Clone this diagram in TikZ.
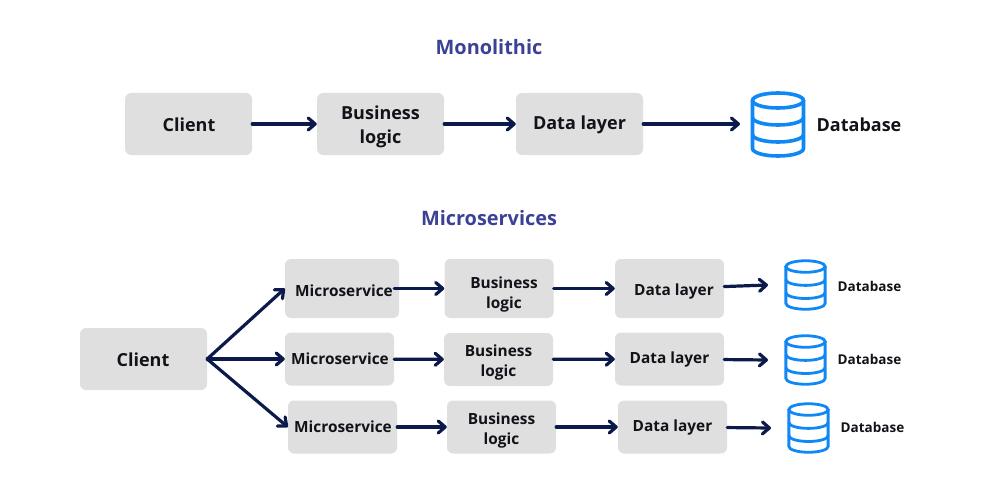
\documentclass[tikz,border=0pt]{standalone}
\usepackage{fontspec}
\setmainfont{Open Sans}
\usetikzlibrary{arrows.meta}
\definecolor{BoxGray}{HTML}{DFDFDF}
\definecolor{ArrowNavy}{HTML}{0B1A4A}
\definecolor{TitleBlue}{HTML}{3C4196}
\definecolor{DbBlue}{HTML}{0F87F5}
\definecolor{TextBlack}{HTML}{111318}
\tikzset{
    % Box styles
    box/.style={
        rectangle,
        rounded corners=6pt,
        fill=BoxGray,
        inner sep=0pt
    },
    bigbox/.style={
        box,
        minimum width=127pt,
        minimum height=62pt
    },
    smallbox/.style={
        box,
        minimum width=109pt,
        minimum height=53pt
    },
    % Row on top is a little taller
    toprow/.style={
        minimum height=59pt
    },
    % Text styles
    bigtext/.style={
        inner sep=0pt,
        align=center,
        text=TextBlack,
        font=\fontsize{18}{24}\selectfont\bfseries
    },
    boxtext/.style={
        inner sep=0pt,
        align=center,
        text=TextBlack,
        font=\fontsize{15.4}{20}\selectfont\bfseries
    },
    title/.style={
        inner sep=0pt,
        text=TitleBlue,
        font=\fontsize{19.9}{24}\selectfont\bfseries
    },
    dblabelsmall/.style={
        inner sep=0pt,
        text=TextBlack,
        font=\fontsize{13.5}{18}\selectfont\bfseries
    },
    % Arrow styles
    arrow/.style={
        -{Straight Barb[length=7pt,width=12pt,round]},
        line width=3.2pt,
        line cap=round,
        draw=ArrowNavy
    },
    dbline/.style={
        draw=DbBlue,
        line width=3.4pt
    },
    pics/database/.style={
        code={
            \draw[dbline] (0,-24) ellipse [x radius=25.5, y radius=7.5];
            \foreach \y in {-7,10}
                \draw[dbline] (-25.5,\y) arc [start angle=180, end angle=0, x radius=25.5, y radius=7.5];
            \draw[dbline] (-25.5,-24) -- (-25.5,24)
                arc [start angle=180, end angle=0, x radius=25.5, y radius=7.5] -- (25.5,-24);
        }
    }
}
\begin{document}
\begin{tikzpicture}[x=1pt, y=-1pt]
    \useasboundingbox (0,0) rectangle (1000,500);

    % Monolithic
    \node[title] (monotitle) at (489,47) {Monolithic};
    \node[bigbox] (client) at (188.5,124) {};
    \node[bigtext] (clienttext) at (189,124.5) {Client};
    \node[bigbox] (logic) at (380.5,124) {};
    \node[bigtext] (logictext) at (380.5,126.5) {Business\\logic};
    \node[bigbox] (data) at (579.5,124) {};
    \node[bigtext] (datatext) at (579.5,125) {Data layer};
    \pic[dbline/.append style={line width=3.6pt}] at (778,124.5) {database};
    \coordinate (dbin) at (740,124);
    \node[bigtext] (dbname) at (859,124.5) {Database};

    \draw[arrow] (client) -- (logic);
    \draw[arrow] (logic) -- (data);
    \draw[arrow] (data) -- (dbin);

    % Microservices
    \node[title] (microtitle) at (489,218) {Microservices};
    \node[bigbox] (clientb) at (143.5,359) {};
    \node[bigtext] (clientbtext) at (143,359.5) {Client};

    \node[smallbox, toprow, minimum width=114pt] (micro1) at (342,288.5) {};
    \node[boxtext] (microtext1) at (344,291) {Microservice};
    \node[smallbox, toprow] (logic1) at (499,288.5) {};
    \node[boxtext] (logictext1) at (504,294) {Business\\logic};
    \node[smallbox, toprow] (data1) at (669.5,288.5) {};
    \node[boxtext] (datatext1) at (674,291) {Data layer};

    \node[smallbox] (micro2) at (339.5,359) {};
    \node[boxtext] (microtext2) at (340,359) {Microservice};
    \node[smallbox] (logic2) at (498.5,359.5) {};
    \node[boxtext] (logictext2) at (498.5,362) {Business\\logic};
    \node[smallbox] (data2) at (669.5,359) {};
    \node[boxtext] (datatext2) at (669.5,359.5) {Data layer};

    \node[smallbox] (micro3) at (342.5,427) {};
    \node[boxtext] (microtext3) at (343,427) {Microservice};
    \node[smallbox] (logic3) at (501.5,427) {};
    \node[boxtext] (logictext3) at (501.5,430) {Business\\logic};
    \node[smallbox] (data3) at (672.5,427) {};
    \node[boxtext] (datatext3) at (672.5,427.5) {Data layer};

    \foreach \i/\x/\y in {1/805.5/285, 2/805.5/360, 3/808.5/428} {
        \pic[scale=0.77, dbline/.append style={line width=2.8pt}] at (\x,\y) {database};
    }
    \coordinate (dbin1) at (768,285);
    \coordinate (dbin2) at (768,360);
    \coordinate (dbin3) at (771,428);
    \node[dblabelsmall] (dbname1) at (869.5,286) {Database};
    \node[dblabelsmall] (dbname2) at (869.5,359) {Database};
    \node[dblabelsmall] (dbname3) at (872.5,427) {Database};

    \draw[arrow] (clientb.east) -- (micro1.west);
    \draw[arrow] (clientb.east) -- (micro2.west);
    \draw[arrow] (clientb.east) -- (micro3.west);
    \draw[arrow, shorten <=-5pt] (micro1) -- (logic1);
    \draw[arrow] (micro2) -- (logic2);
    \draw[arrow] (micro3) -- (logic3);
    \foreach \i in {1,2,3} {
        \draw[arrow] (logic\i) -- (data\i);
        \draw[arrow] (data\i) -- (dbin\i);
    }
\end{tikzpicture}
\end{document}
